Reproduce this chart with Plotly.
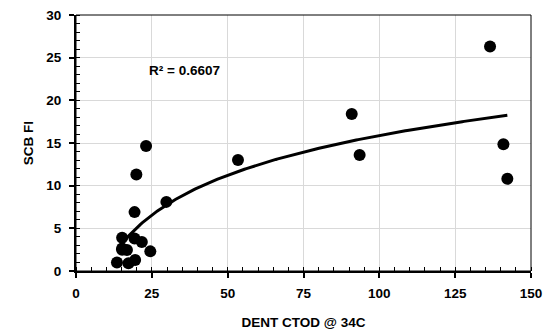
import numpy as np
import plotly.graph_objects as go

# Data
dent_ctod = [13.5, 15.2, 16.8, 17.3, 19.5, 15.2, 19.3, 21.7, 24.5, 15.2,
             19.3, 19.9, 23.1, 29.8, 53.4, 90.9, 93.5, 136.5, 140.9, 142.2]
scb_fi = [1.0, 2.65, 2.46, 0.9, 1.3, 3.9, 3.8, 3.4, 2.3, 2.5,
          6.9, 11.3, 14.65, 8.1, 13.0, 18.4, 13.6, 26.3, 14.85, 10.8]

x_ticks = [0, 25, 50, 75, 100, 125, 150]
y_ticks = [0, 5, 10, 15, 20, 25, 30]
r2_label = "R² = 0.6607"

# Logarithmic trendline (least squares on ln x), as in Excel
xa = np.array(dent_ctod)
ya = np.array(scb_fi)
a, b = np.polyfit(np.log(xa), ya, 1)
xt = np.linspace(xa.min(), xa.max(), 200)
yt = a * np.log(xt) + b

FONT = "Liberation Sans"
FS = 13.5

fig = go.Figure()
fig.add_trace(go.Scatter(x=dent_ctod, y=scb_fi, mode="markers",
                         marker=dict(size=12, color="black"),
                         showlegend=False, hoverinfo="skip"))
fig.add_trace(go.Scatter(x=xt, y=yt, mode="lines",
                         line=dict(color="black", width=3),
                         showlegend=False, hoverinfo="skip"))

fig.add_annotation(x=0.238, y=0.785, xref="paper", yref="paper",
                   text=r2_label, showarrow=False, xanchor="center", yanchor="middle",
                   font=dict(family=FONT, size=FS, color="black", weight="bold"))

fig.add_shape(type="rect", xref="paper", yref="paper", x0=0, y0=0, x1=1, y1=1,
              line=dict(color="black", width=1))

fig.update_layout(
    template="none",
    width=547, height=331,
    margin=dict(l=76, r=16, t=15, b=60),
    paper_bgcolor="white", plot_bgcolor="white",
    font=dict(family=FONT, size=FS, color="black", weight="bold"),
    xaxis=dict(range=[0, 150], tickvals=x_ticks, showgrid=True, automargin=False,
               gridcolor="#d9d9d9", gridwidth=1, zeroline=False,
               showline=True, linecolor="black", linewidth=2,
               ticks="outside", ticklen=5, tickwidth=1.5, tickcolor="black",
               ticklabelstandoff=4,
               minor=dict(dtick=5, ticks="inside", ticklen=4, tickcolor="black",
                          tickwidth=1, showgrid=False),
               title=dict(text="DENT CTOD @ 34C", standoff=17,
                          font=dict(family=FONT, size=FS, weight="bold")),
               tickfont=dict(family=FONT, size=FS, weight="bold")),
    yaxis=dict(range=[0, 30], tickvals=y_ticks, showgrid=True, automargin=False,
               gridcolor="#d9d9d9", gridwidth=1, zeroline=False,
               showline=True, linecolor="black", linewidth=2,
               ticks="outside", ticklen=5, tickwidth=1.5, tickcolor="black",
               ticklabelstandoff=5,
               minor=dict(dtick=1, ticks="inside", ticklen=4, tickcolor="black",
                          tickwidth=1, showgrid=False),
               title=dict(text="SCB FI", standoff=10,
                          font=dict(family=FONT, size=FS, weight="bold")),
               tickfont=dict(family=FONT, size=FS, weight="bold")),
)

fig.write_html("out.html")
